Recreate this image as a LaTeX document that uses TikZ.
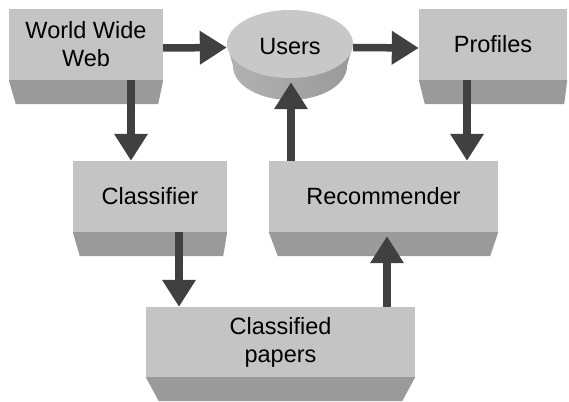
\documentclass[tikz,border=0pt]{standalone}
\usepackage{fontspec}
\setmainfont{Liberation Sans}
\usetikzlibrary{arrows.meta,shapes.geometric}
\definecolor{facegray}{HTML}{C4C4C4}
\definecolor{bevelgray}{HTML}{9A9A9A}
\definecolor{arrowgray}{HTML}{404040}
\definecolor{topgray}{HTML}{C8C8C8}
\tikzset{
  face/.style={fill=facegray, draw=none, inner sep=0pt, align=center,
    font=\fontsize{23.5}{28}\selectfont, minimum height=71pt},
  bevelfill/.style={fill=bevelgray},
  arr/.style={draw=arrowgray, line width=7.5pt,
    -{Triangle[length=27pt,width=32pt,fill=arrowgray]}},
}
\begin{document}
\begin{tikzpicture}[x=1pt,y=-1pt]
\useasboundingbox (0,0) rectangle (569,401);
% boxes
\node[face, minimum width=154pt] (www) at (86,44.5) {World Wide\\Web};
\node[face, minimum width=148pt] (prof) at (493,44.5) {Profiles};
\node[face, minimum width=154pt] (class) at (150,196.5) {Classifier};
\node[face, minimum width=229pt] (rec) at (383.5,196.5) {Recommender};
\node[face, minimum width=269pt, minimum height=70pt] (papers) at (280.5,342) {Classified\\papers};
% bevels
\fill[bevelfill] (www.south west) -- (www.south east) -- ([xshift=-5pt,yshift=-24pt]www.south east) -- ([xshift=7pt,yshift=-24pt]www.south west) -- cycle;
\fill[bevelfill] (prof.south west) -- (prof.south east) -- ([xshift=-3pt,yshift=-24pt]prof.south east) -- ([xshift=6pt,yshift=-24pt]prof.south west) -- cycle;
\fill[bevelfill] (class.south west) -- (class.south east) -- ([xshift=-4pt,yshift=-24pt]class.south east) -- ([xshift=7pt,yshift=-24pt]class.south west) -- cycle;
\fill[bevelfill] (rec.south west) -- (rec.south east) -- ([xshift=-8pt,yshift=-24pt]rec.south east) -- ([xshift=9pt,yshift=-24pt]rec.south west) -- cycle;
\fill[bevelfill] (papers.south west) -- (papers.south east) -- ([xshift=-13pt,yshift=-24pt]papers.south east) -- ([xshift=13pt,yshift=-24pt]papers.south west) -- cycle;
% cylinder side
\shade[left color=black!30, middle color=black!14, right color=black!40]
  (227,44) -- (233,66) arc[start angle=180, end angle=360, x radius=57pt, y radius=34pt]
  -- (353,44) -- cycle;
\node[ellipse, fill=topgray, inner sep=0pt, minimum width=126pt, minimum height=68pt,
  text height=22pt, text depth=0pt,
  font=\fontsize{23.5}{28}\selectfont] (users) at (290,44) {Users};
% arrows
\draw[arr] ([yshift=-3.5pt]www.east) -- ([yshift=-3.5pt]users.west);
\draw[arr] ([yshift=-3.5pt]users.east) -- ([yshift=-3.5pt]prof.west);
\draw[arr] ([xshift=45pt]www.south) -- ([xshift=45pt]www.south |- class.north);
\draw[arr] ([xshift=29pt]class.south) -- ([xshift=29pt]class.south |- papers.north);
\draw[arr] ([xshift=106.5pt]papers.north) -- ([xshift=106.5pt,yshift=-4pt]papers.north |- rec.south);
\draw[arr] ([xshift=-92.5pt]rec.north) -- ([xshift=-92.5pt,yshift=-4pt]rec.north |- users.south);
\draw[arr] ([xshift=-26pt]prof.south) -- ([xshift=-26pt]prof.south |- rec.north);
\end{tikzpicture}
\end{document}
